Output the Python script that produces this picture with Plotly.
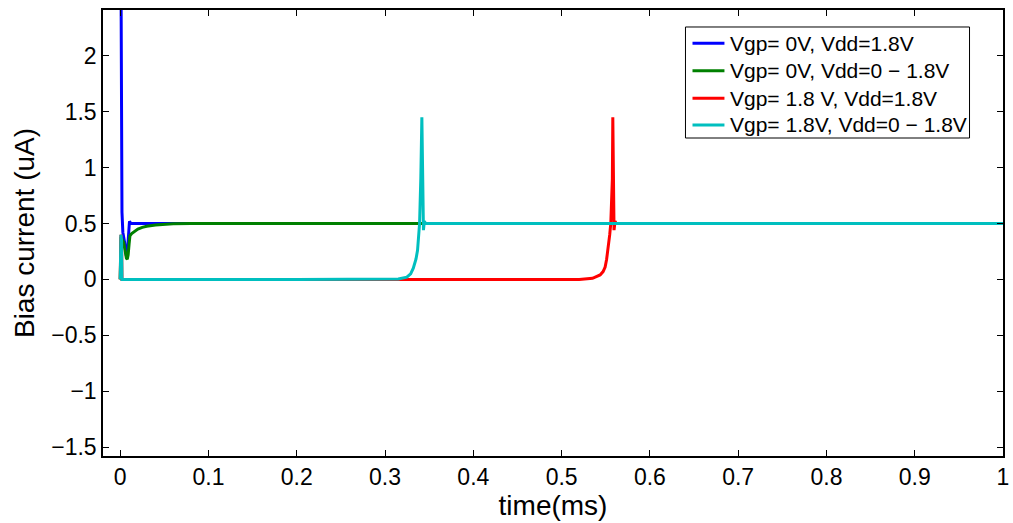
import plotly.graph_objects as go

# ---- data (time in ms, current in uA) ----
blue_t = [0.0, 0.0005, 0.001, 0.0015, 0.002, 0.003, 0.004, 0.005, 0.006, 0.007, 0.008, 0.009, 0.010, 0.0105, 0.012, 0.015, 0.03, 0.1, 1.0]
blue_v = [3.0, 2.9, 2.5, 1.2, 0.6, 0.42, 0.38, 0.33, 0.26, 0.21, 0.23, 0.34, 0.47, 0.52, 0.50, 0.50, 0.50, 0.50, 0.50]

green_t = [0.0, 0.0003, 0.001, 0.002, 0.004, 0.005, 0.006, 0.007, 0.008, 0.009, 0.010, 0.011, 0.013, 0.016, 0.02, 0.025, 0.03, 0.04, 0.05, 0.06, 0.08, 0.1, 1.0]
green_v = [0.0, 0.36, 0.38, 0.36, 0.33, 0.28, 0.22, 0.19, 0.18, 0.22, 0.31, 0.39, 0.41, 0.43, 0.45, 0.465, 0.475, 0.487, 0.493, 0.497, 0.499, 0.5, 0.5]

red_t = [0.0, 0.0005, 0.0008, 0.0015, 0.002, 0.2, 0.35, 0.45, 0.52, 0.535, 0.5436, 0.547, 0.5493, 0.551, 0.553, 0.5545, 0.5557, 0.5575, 0.558, 0.5585, 0.5594, 0.5605, 0.562, 1.0]
red_v = [0.0, 0.3, 0.40, 0.35, 0.0, 0.0, -0.004, -0.004, -0.002, 0.01, 0.04, 0.07, 0.11, 0.18, 0.29, 0.40, 0.50, 0.9, 1.45, 1.0, 0.44, 0.52, 0.50, 0.50]

cyan_t = [0.0, 0.0005, 0.0008, 0.0015, 0.002, 0.2, 0.30, 0.315, 0.3247, 0.329, 0.332, 0.335, 0.3368, 0.338, 0.3391, 0.3405, 0.3417, 0.3425, 0.3435, 0.3445, 0.346, 1.0]
cyan_v = [0.0, 0.3, 0.40, 0.35, 0.0, 0.0, 0.0, 0.004, 0.02, 0.05, 0.10, 0.18, 0.26, 0.38, 0.50, 0.9, 1.45, 1.0, 0.44, 0.52, 0.50, 0.50]

series_names = [
    "Vgp= 0V, Vdd=1.8V",
    "Vgp= 0V, Vdd=0 \u2212 1.8V",
    "Vgp= 1.8 V, Vdd=1.8V",
    "Vgp= 1.8V, Vdd=0 \u2212 1.8V",
]
series_colors = ["#0000FF", "#008000", "#FF0000", "#00BFBF"]

x_ticks = [0, 0.1, 0.2, 0.3, 0.4, 0.5, 0.6, 0.7, 0.8, 0.9, 1]
x_labels = ["0", "0.1", "0.2", "0.3", "0.4", "0.5", "0.6", "0.7", "0.8", "0.9", "1"]
y_ticks = [-1.5, -1, -0.5, 0, 0.5, 1, 1.5, 2]
y_labels = ["\u22121.5", "\u22121", "\u22120.5", "0", "0.5", "1", "1.5", "2"]

FONT = "Liberation Sans, Arial, Helvetica, sans-serif"

fig = go.Figure()
for t, v, name, col in zip([blue_t, green_t, red_t, cyan_t],
                           [blue_v, green_v, red_v, cyan_v],
                           series_names, series_colors):
    fig.add_trace(go.Scatter(x=t, y=v, mode="lines", name=name,
                             line=dict(color=col, width=3), showlegend=False))

# ---- legend drawn as a boxed key in paper coordinates ----
leg_x0, leg_x1, leg_y0, leg_y1 = 0.6472, 0.9628, 0.713, 0.9619
row_y = [0.9253, 0.8639, 0.8020, 0.7422]
fig.add_shape(type="rect", xref="paper", yref="paper",
              x0=leg_x0, x1=leg_x1, y0=leg_y0, y1=leg_y1,
              line=dict(color="black", width=1), fillcolor="white", layer="above")
for name, col, ry in zip(series_names, series_colors, row_y):
    fig.add_shape(type="line", xref="paper", yref="paper",
                  x0=0.6550, x1=0.6905, y0=ry, y1=ry,
                  line=dict(color=col, width=3), layer="above")
    fig.add_annotation(xref="paper", yref="paper", x=0.6940, y=ry,
                       xanchor="left", yanchor="middle", showarrow=False,
                       text=name, font=dict(family=FONT, size=21, color="black"))

axis_common = dict(
    showline=True, linecolor="black", linewidth=1.5, mirror="allticks",
    ticks="inside", ticklen=6, tickwidth=1, tickcolor="black",
    showgrid=False, zeroline=False, automargin=False,
    tickfont=dict(family=FONT, size=23, color="black"),
)

fig.update_layout(
    width=1013, height=523,
    margin=dict(l=103, r=10, t=10, b=67),
    paper_bgcolor="white", plot_bgcolor="white",
    font=dict(family=FONT, color="black"),
    xaxis=dict(range=[-0.0195, 1.0], tickvals=x_ticks, ticktext=x_labels,
               ticklabelstandoff=0,
               title=dict(text="time(ms)", font=dict(family=FONT, size=28), standoff=4),
               **axis_common),
    yaxis=dict(range=[-1.58, 2.41], tickvals=y_ticks, ticktext=y_labels,
               title=dict(text="Bias current (uA)", font=dict(family=FONT, size=28), standoff=8),
               **axis_common),
    showlegend=False,
)

fig.write_html("out.html")
